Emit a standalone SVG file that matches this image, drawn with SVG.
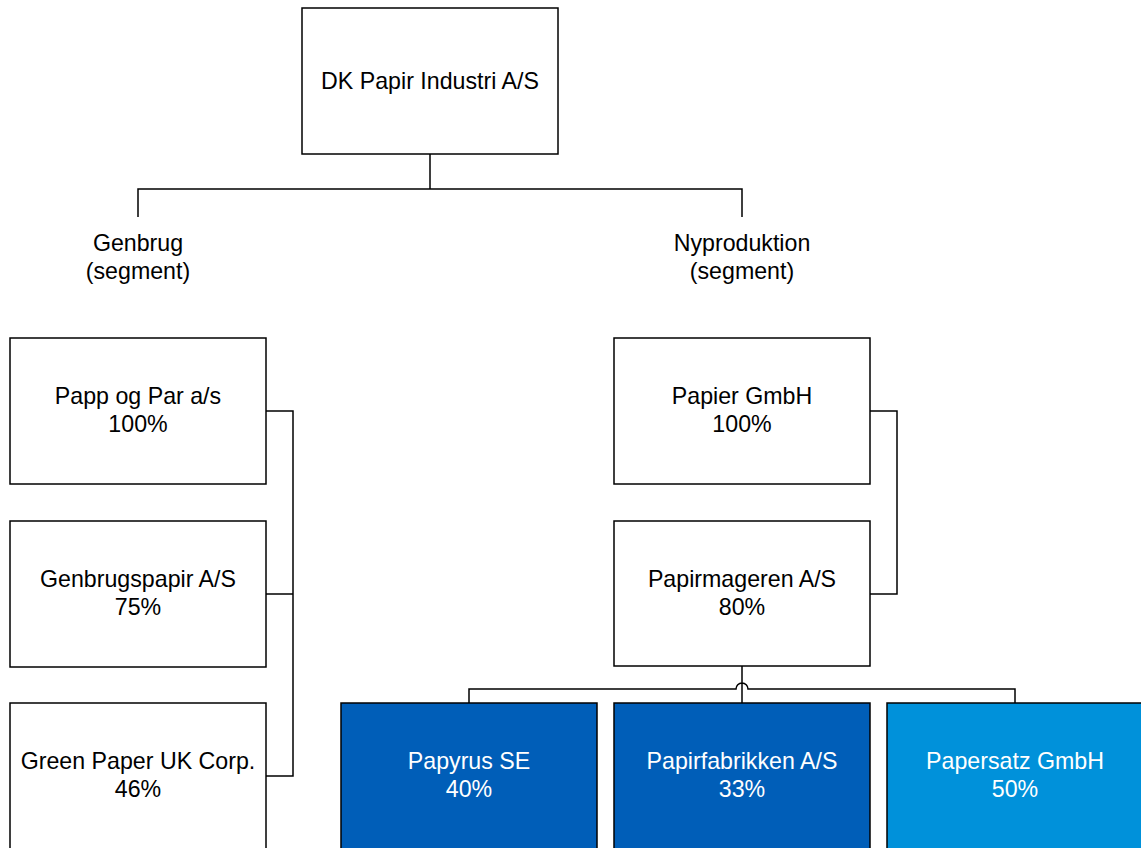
<svg xmlns="http://www.w3.org/2000/svg" width="1141" height="848" viewBox="0 0 1141 848">
<style>
.box{fill:#fff;stroke:#000;stroke-width:1.5}
.dark{fill:#005EB8;stroke:#000;stroke-width:1.5}
.light{fill:#0091DA;stroke:#000;stroke-width:1.5}
.c{fill:none;stroke:#000;stroke-width:1.5}
text{font-family:"Liberation Sans",Arial,sans-serif;font-size:23.2px;text-anchor:middle;fill:#000}
.w{fill:#fff}
</style>
<rect width="1141" height="848" fill="#fff"/>
<g id="connectors">
<path class="c" d="M430 154V189M138 217V189H742V217"/>
<path class="c" d="M266 411H293V776H266M266 594H293"/>
<path class="c" d="M870 411H897V594H870"/>
<path class="c" d="M742 666V703M469 703V689H736A6 6 0 0 1 748 689H1015V703"/>
</g>
<g id="dk">
<rect class="box" x="302" y="8" width="256" height="146"/>
<text x="430" y="89">DK Papir Industri A/S</text>
</g>
<g id="genbrug">
<text x="138" y="251">Genbrug</text>
<text x="138" y="279">(segment)</text>
</g>
<g id="nyproduktion">
<text x="742" y="251">Nyproduktion</text>
<text x="742" y="279">(segment)</text>
</g>
<g id="papp">
<rect class="box" x="10" y="338" width="256" height="146"/>
<text x="138" y="404">Papp og Par a/s</text>
<text x="138" y="432">100%</text>
</g>
<g id="genbrugspapir">
<rect class="box" x="10" y="521" width="256" height="146"/>
<text x="138" y="587">Genbrugspapir A/S</text>
<text x="138" y="615">75%</text>
</g>
<g id="greenpaper">
<rect class="box" x="10" y="703" width="256" height="146"/>
<text x="138" y="769">Green Paper UK Corp.</text>
<text x="138" y="797">46%</text>
</g>
<g id="papier">
<rect class="box" x="614" y="338" width="256" height="146"/>
<text x="742" y="404">Papier GmbH</text>
<text x="742" y="432">100%</text>
</g>
<g id="papirmageren">
<rect class="box" x="614" y="521" width="256" height="145"/>
<text x="742" y="587">Papirmageren A/S</text>
<text x="742" y="615">80%</text>
</g>
<g id="papyrus">
<rect class="dark" x="341" y="703" width="256" height="146"/>
<text class="w" x="469" y="769">Papyrus SE</text>
<text class="w" x="469" y="797">40%</text>
</g>
<g id="papirfabrikken">
<rect class="dark" x="614" y="703" width="256" height="146"/>
<text class="w" x="742" y="769">Papirfabrikken A/S</text>
<text class="w" x="742" y="797">33%</text>
</g>
<g id="papersatz">
<rect class="light" x="887" y="703" width="256" height="146"/>
<text class="w" x="1015" y="769">Papersatz GmbH</text>
<text class="w" x="1015" y="797">50%</text>
</g>
</svg>
